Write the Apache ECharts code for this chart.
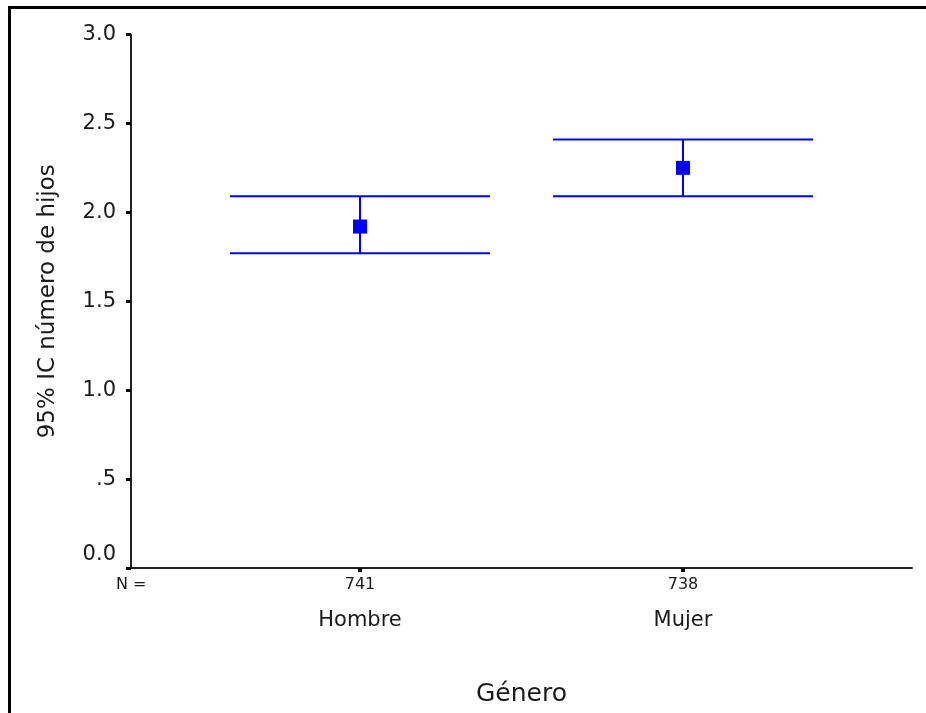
<!DOCTYPE html>
<html>
<head>
<meta charset="utf-8">
<script src="https://cdn.jsdelivr.net/npm/echarts@6/dist/echarts.min.js"></script>
<style>
html,body{margin:0;padding:0;background:#fff;}
#frame{position:absolute;left:8px;top:6px;width:918px;height:707px;border-left:3px solid #000;border-top:3px solid #000;box-sizing:border-box;}
#chart{position:absolute;left:0;top:0;width:926px;height:713px;}
</style>
</head>
<body>
<div id="frame"></div>
<div id="chart"></div>
<script>
// ---- data ----
const categories = ['Hombre', 'Mujer'];
const nCounts = [741, 738];
const means = [1.92, 2.25];
const lower = [1.77, 2.09];
const upper = [2.09, 2.41];
const yTickLabels = ['0.0', '.5', '1.0', '1.5', '2.0', '2.5', '3.0'];
const yAxisTitle = '95% IC número de hijos';
const xAxisTitle = 'Género';
const nLabel = 'N =';

const FONT = 'DejaVu Sans';
const TXT = '#1a1a1a';
const BLUE = '#0000ff';

const seriesData = categories.map((c, i) => [i, lower[i], upper[i], means[i]]);

const chart = echarts.init(document.getElementById('chart'), null, {renderer: 'canvas'});
chart.setOption({
  animation: false,
  backgroundColor: 'transparent',
  grid: [
    {left: 131, right: 14, top: 34.5, bottom: 145},
    {left: 198.5, right: 81.5, top: 34.5, bottom: 145}
  ],
  xAxis: [
    {
      gridIndex: 0, type: 'value', min: 0, max: 1,
      axisLine: {show: true, onZero: false, lineStyle: {color: '#222', width: 2}},
      axisTick: {show: false}, axisLabel: {show: false}, splitLine: {show: false},
      name: xAxisTitle, nameLocation: 'middle', nameGap: 114,
      nameTextStyle: {fontFamily: FONT, fontSize: 25, color: TXT}
    },
    {
      gridIndex: 1, type: 'category', data: categories, boundaryGap: true,
      axisLine: {show: false},
      axisTick: {show: true, alignWithLabel: true, length: 4, lineStyle: {color: '#000', width: 4}},
      axisLabel: {
        margin: 7,
        formatter: function (v, i) { return '{n|' + nCounts[i] + '}\n{c|' + v + '}'; },
        rich: {
          n: {fontFamily: FONT, fontSize: 16, color: TXT, lineHeight: 20},
          c: {fontFamily: FONT, fontSize: 21, color: TXT, lineHeight: 52}
        }
      },
      splitLine: {show: false}
    }
  ],
  yAxis: [
    {
      gridIndex: 0, type: 'value', min: 0, max: 3, interval: 0.5,
      axisLine: {show: true, lineStyle: {color: '#222', width: 2}},
      axisTick: {show: true, length: 5, lineStyle: {color: '#000', width: 3}},
      axisLabel: {
        margin: 15, fontFamily: FONT, fontSize: 21, color: TXT,
        formatter: function (v) {
          const idx = Math.round(v / 0.5);
          const t = yTickLabels[idx];
          return idx === 0 ? '{z|' + t + '}' : t;
        },
        rich: {
          z: {fontFamily: FONT, fontSize: 21, color: TXT, padding: [0, 0, 27, 0]}
        }
      },
      splitLine: {show: false},
      name: yAxisTitle, nameLocation: 'middle', nameGap: 71, nameRotate: 90,
      nameTextStyle: {fontFamily: FONT, fontSize: 23, color: TXT}
    },
    {
      gridIndex: 1, type: 'value', min: 0, max: 3, show: false
    }
  ],
  graphic: [
    {type: 'text', left: 116, top: 577, style: {text: nLabel, font: '16px "DejaVu Sans"', fill: TXT}}
  ],
  series: [
    {
      type: 'custom',
      xAxisIndex: 1, yAxisIndex: 1,
      data: seriesData,
      encode: {x: 0, y: [1, 2, 3]},
      renderItem: function (params, api) {
        const x = api.value(0);
        const lo = api.coord([x, api.value(1)]);
        const hi = api.coord([x, api.value(2)]);
        const m = api.coord([x, api.value(3)]);
        const band = api.size([1, 0])[0];
        const half = band * 0.805 / 2;
        const st = {stroke: BLUE, lineWidth: 2};
        return {
          type: 'group',
          children: [
            {type: 'line', shape: {x1: lo[0], y1: lo[1], x2: hi[0], y2: hi[1]}, style: st},
            {type: 'line', shape: {x1: lo[0] - half, y1: lo[1], x2: lo[0] + half, y2: lo[1]}, style: st},
            {type: 'line', shape: {x1: hi[0] - half, y1: hi[1], x2: hi[0] + half, y2: hi[1]}, style: st},
            {type: 'rect', shape: {x: m[0] - 7, y: m[1] - 7, width: 14, height: 14}, style: {fill: BLUE}}
          ]
        };
      }
    }
  ]
});
</script>
</body>
</html>
